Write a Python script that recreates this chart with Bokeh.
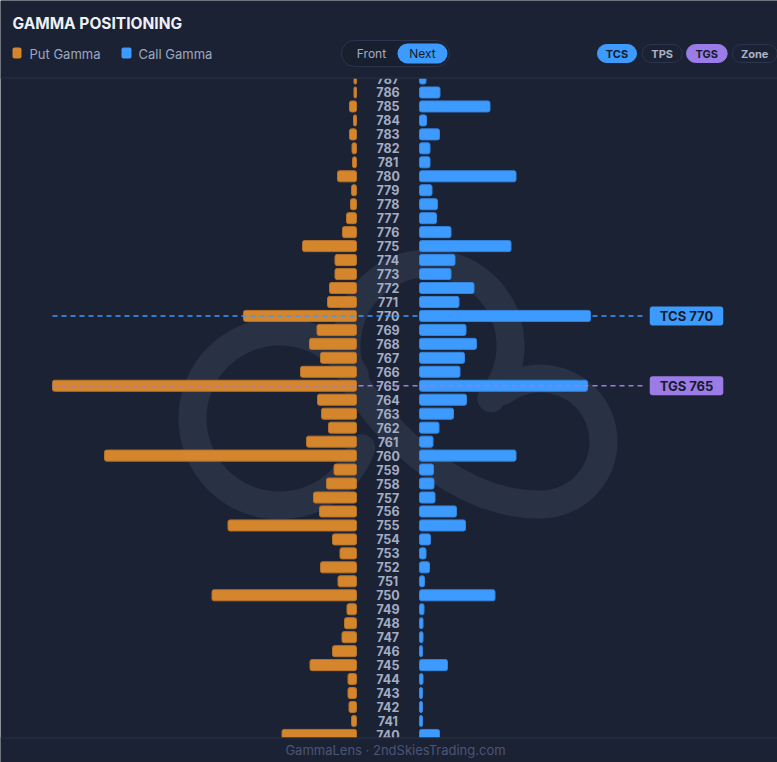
from bokeh.plotting import figure
from bokeh.models import Range1d, ColumnDataSource
from bokeh.core.properties import value
from bokeh.embed import file_html
from bokeh.resources import INLINE
import math

# ---------------- data ----------------
title = "GAMMA POSITIONING"
footer_text = "GammaLens · 2ndSkiesTrading.com"
legend_labels = ["Put Gamma", "Call Gamma"]
toggle_labels = ["Front", "Next"]
level_buttons = ["TCS", "TPS", "TGS", "Zone"]

strikes = [787, 786, 785, 784, 783, 782, 781, 780, 779, 778, 777, 776, 775, 774, 773, 772,
           771, 770, 769, 768, 767, 766, 765, 764, 763, 762, 761, 760, 759, 758, 757, 756,
           755, 754, 753, 752, 751, 750, 749, 748, 747, 746, 745, 744, 743, 742, 741, 740]
put_gamma = [2.5, 2.5, 7, 3, 7, 4.5, 4, 19, 5, 6, 10, 14, 54, 21.5, 21.5, 27,
             29, 113, 39.5, 47, 36, 56, 304, 39, 35, 28, 50, 252, 22.5, 30, 43, 37,
             128.5, 24, 16.5, 36, 18.5, 144.5, 9.5, 12, 14.5, 24, 46.5, 8.5, 8.5, 7.5, 5, 74.5]
call_gamma = [6.5, 20.5, 70.5, 7, 20, 10.5, 10.5, 96.5, 12.5, 18, 17, 31.5, 91.5, 35.5, 31.5, 54.5,
              39.5, 171, 46.5, 57, 45, 40.5, 168, 47, 34, 19.5, 13.5, 96.5, 14, 14.5, 15.5, 37,
              46, 11, 6.5, 10, 5, 75.5, 4.5, 3.5, 3.5, 3, 28, 3.5, 3, 3, 3, 20]
key_names = ["TCS", "TGS"]
key_strikes = [770, 765]

# ---------------- style ----------------
BG = "#1b2234"
PUT = "#d5862c"
CALL = "#3d9bff"
PURPLE = "#9b7ce6"
GRID = "#283047"
LABEL = "#a3adc4"
DARK_TXT = "#151b2a"
WM = "#293145"
FONT = value("Inter")
W, H = 777, 762
ROW = 13.967          # pixels per strike row
TOP, BOT = 78, 737    # chart body (page pixels)


def px(X):
    return X - 387.5


def py(Y):
    return 787 - (Y - TOP) / ROW


p = figure(width=W, height=H, x_range=Range1d(px(0), px(W)), y_range=Range1d(py(H), py(0)),
           output_backend="svg", toolbar_location=None, min_border=0)
p.background_fill_color = BG
p.border_fill_color = BG
p.outline_line_color = None
p.axis.visible = False
p.grid.visible = False

# watermark (decorative logo)
d = math.radians
p.arc(x=[px(279), px(428), px(540)], y=[py(418), py(345), py(441)],
      radius=[87, 82, 63], radius_units="screen",
      start_angle=[d(30), d(-40), d(-90)], end_angle=[d(340), d(215), d(127)],
      line_color=WM, line_width=28, line_cap="round")
p.bezier(x0=[px(361)], y0=[py(392)], x1=[px(540)], y1=[py(504)],
         cx0=[px(400)], cy0=[py(450)], cx1=[px(470)], cy1=[py(505)],
         line_color=WM, line_width=28, line_cap="round")

# bars
gap = 31.5
n = len(strikes)
src = ColumnDataSource(dict(
    strike=strikes,
    put_left=[-(gap + v) for v in put_gamma], put_right=[-gap] * n,
    call_left=[gap] * n, call_right=[gap + v for v in call_gamma],
    label=[str(s) for s in strikes]))
p.hbar(y="strike", left="put_left", right="put_right", height=0.79, source=src,
       fill_color=PUT, line_color="#b7722a", line_width=1, border_radius=2)
p.hbar(y="strike", left="call_left", right="call_right", height=0.79, source=src,
       fill_color=CALL, line_color="#3585dc", line_width=1, border_radius=2)
p.text(x=0, y="strike", text="label", source=src, text_font=FONT, text_font_size="12.5px",
       text_font_style="bold", text_color=LABEL, text_align="center", text_baseline="middle")

# key levels
key_colors = [CALL, PURPLE]
line_start = -(gap + max(put_gamma))
box_c, box_w, box_h = px(686), 73.5, 19 / ROW
p.segment(x0=[line_start] * 2, y0=key_strikes, x1=[box_c - box_w / 2 - 6] * 2, y1=key_strikes,
          line_color=key_colors, line_width=1.6, line_dash="5 4")
p.quad(left=[box_c - box_w / 2] * 2, right=[box_c + box_w / 2] * 2,
       top=[k + box_h / 2 for k in key_strikes], bottom=[k - box_h / 2 for k in key_strikes],
       fill_color=key_colors, line_color=None, border_radius=3)
p.text(x=[box_c] * 2, y=key_strikes, text=[f"{a} {b}" for a, b in zip(key_names, key_strikes)],
       text_font=FONT, text_font_size="13px", text_font_style="bold", text_color=DARK_TXT,
       text_align="center", text_baseline="middle")

# header / footer panels (cover the chart body edges)
p.quad(left=[px(0), px(0)], right=[px(W), px(W)], top=[py(0), py(BOT)],
       bottom=[py(TOP), py(H)], fill_color=BG, line_color=None)
p.segment(x0=[px(0)] * 2, y0=[py(TOP - 0.5), py(BOT + 0.5)], x1=[px(W)] * 2,
          y1=[py(TOP - 0.5), py(BOT + 0.5)], line_color=GRID, line_width=1)

# header
p.text(x=[px(12)], y=[py(22.5)], text=[title], text_font=FONT, text_font_size="15.5px",
       text_font_style="bold", text_color="#eef1f8", text_baseline="middle", text_align="left")
p.quad(left=[px(12), px(121)], right=[px(21), px(131)], top=[py(47)] * 2, bottom=[py(58)] * 2,
       fill_color=[PUT, CALL], line_color=None, border_radius=2)
p.text(x=[px(29), px(138)], y=[py(53)] * 2, text=legend_labels, text_font=FONT,
       text_font_size="13px", text_color="#9ea8bf", text_baseline="middle", text_align="left")
p.quad(left=[px(341)], right=[px(449)], top=[py(40)], bottom=[py(66)], fill_color="#182030",
       line_color="#2c3550", line_width=1, border_radius=13)
p.quad(left=[px(397)], right=[px(447)], top=[py(43)], bottom=[py(63)], fill_color=CALL,
       line_color=None, border_radius=10)
p.text(x=[px(371), px(422)], y=[py(53)] * 2, text=toggle_labels, text_font=FONT,
       text_font_size="12px", text_color=["#a3adc3", DARK_TXT], text_baseline="middle",
       text_align="center")
b_left = [597, 641.7, 686, 731.7]
b_right = [636, 681.7, 726.7, 776.7]
p.quad(left=[px(v) for v in b_left], right=[px(v) for v in b_right], top=[py(44)] * 4,
       bottom=[py(62)] * 4, fill_color=[CALL, BG, PURPLE, BG],
       line_color=[CALL, "#2c3550", PURPLE, "#2c3550"], border_radius=9)
p.text(x=[px((a + b) / 2) for a, b in zip(b_left, b_right)], y=[py(53)] * 4, text=level_buttons,
       text_font=FONT, text_font_size="11px", text_font_style="bold",
       text_color=[DARK_TXT, "#aab3c9", DARK_TXT, "#aab3c9"],
       text_baseline="middle", text_align="center")

# footer
p.text(x=[px(395)], y=[py(749)], text=[footer_text], text_font=FONT, text_font_size="13px",
       text_color="#4b5575", text_align="center", text_baseline="middle")

open("out.html", "w").write(file_html(p, INLINE))
